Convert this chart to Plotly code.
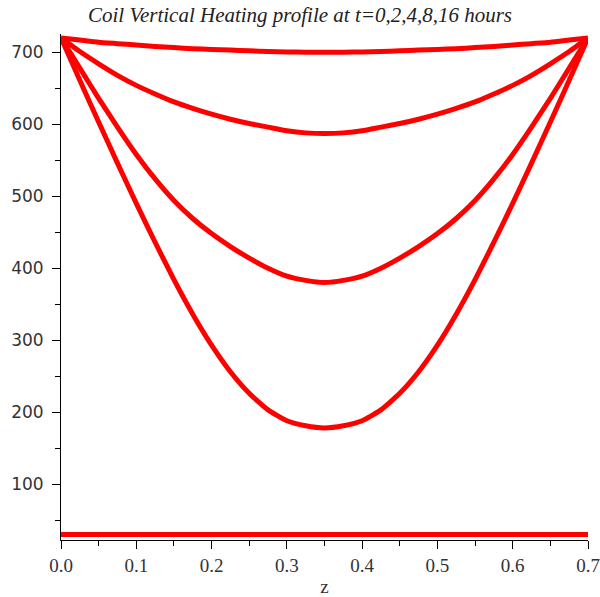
import plotly.graph_objects as go

z = [0.0, 0.025, 0.05, 0.075, 0.1, 0.125, 0.15, 0.175, 0.2, 0.225, 0.25, 0.275, 0.3, 0.325,
     0.35, 0.375, 0.4, 0.425, 0.45, 0.475, 0.5, 0.525, 0.55, 0.575, 0.6, 0.625, 0.65, 0.675, 0.7]

T_t0 = [30] * 29
T_t2 = [720, 661, 603, 546, 490, 436, 384, 336, 293, 256, 226, 203, 188, 181,
        178, 181, 188, 203, 226, 256, 293, 336, 384, 436, 490, 546, 603, 661, 720]
T_t4 = [720, 678, 636, 596, 558, 524, 494, 469, 448, 430, 414, 400, 389, 383,
        380, 383, 389, 400, 414, 430, 448, 469, 494, 524, 558, 596, 636, 678, 720]
T_t8 = [720, 701, 684, 668, 654, 642, 631, 622, 614, 607, 601, 596, 591, 588,
        587, 588, 591, 596, 601, 607, 614, 622, 631, 642, 654, 668, 684, 701, 720]
T_t16 = [720, 717, 714, 712, 710, 708, 706.5, 705, 704, 703, 702, 701, 700.5, 700,
         700, 700, 700.5, 701, 702, 703, 704, 705, 706.5, 708, 710, 712, 714, 717, 720]

series = {"t=0": T_t0, "t=2": T_t2, "t=4": T_t4, "t=8": T_t8, "t=16": T_t16}

fig = go.Figure()
for name, vals in series.items():
    fig.add_trace(go.Scatter(x=z, y=vals, mode="lines", name=name,
                             line=dict(color="#ff0000", width=5, shape="spline", smoothing=0.5)))

fig.update_layout(
    width=600, height=597,
    margin=dict(l=61, r=12, t=34, b=57, autoexpand=False),
    paper_bgcolor="white", plot_bgcolor="white",
    showlegend=False,
    title=dict(text="Coil Vertical Heating profile at t=0,2,4,8,16 hours",
               x=0.5, xref="container", xanchor="center",
               y=1 - 15 / 597, yref="container", yanchor="middle",
               font=dict(family="Liberation Serif", size=21, color="#222222", style="italic")),
)

fig.update_xaxes(
    range=[0, 0.7], dtick=0.1, tick0=0, tickformat=".1f", automargin=False,
    showline=True, linecolor="black", linewidth=1,
    ticks="outside", ticklen=8, tickcolor="black", showgrid=False, zeroline=False,
    minor=dict(dtick=0.05, ticks="outside", ticklen=5, tickcolor="black", showgrid=False),
    tickfont=dict(family="Liberation Serif", size=19, color="#333333"),
    title=dict(text="z", font=dict(family="Liberation Serif", size=19, color="#333333"), standoff=12),
)
fig.update_yaxes(
    range=[22.2, 725.4], dtick=100, tick0=0, automargin=False,
    showline=True, linecolor="black", linewidth=1,
    ticks="outside", ticklen=8, tickcolor="black", showgrid=False, zeroline=False,
    minor=dict(dtick=50, ticks="outside", ticklen=5, tickcolor="black", showgrid=False),
    tickfont=dict(family="DejaVu Sans", size=17, color="#333333"),
    ticklabelstandoff=5,
)

fig.write_html("out.html")
